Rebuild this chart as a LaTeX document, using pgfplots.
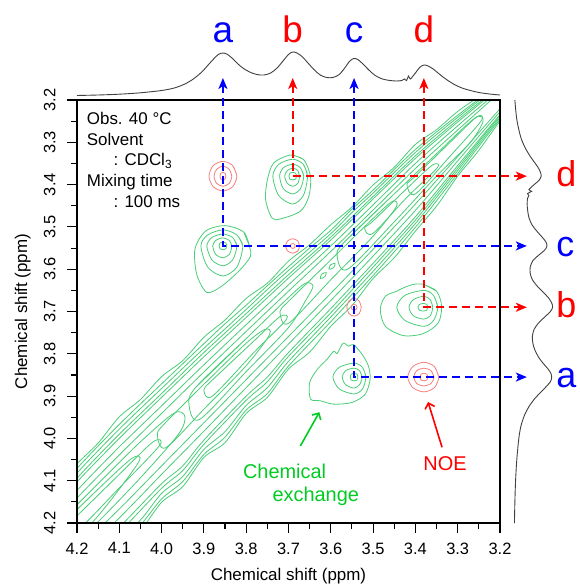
\documentclass[border=0pt]{standalone}
\usepackage{fontspec}
\setmainfont{Liberation Sans}
\usepackage{pgfplots}
\pgfplotsset{compat=1.18}
\usepackage{pgfplotstable}
\usetikzlibrary{arrows.meta,calc}

\definecolor{cont}{RGB}{72,206,118}
\definecolor{noe}{RGB}{244,128,128}
\definecolor{pkblue}{RGB}{0,0,255}
\definecolor{pkred}{RGB}{255,0,0}
\definecolor{exgreen}{RGB}{0,204,34}

\pgfplotsset{
  gc/.style={cont, line width=0.8bp, smooth},
  pc/.style={noe, line width=0.8bp, smooth},
  guide/.style={line width=1.9bp, dash pattern=on 8bp off 5bp,
    {Stealth[length=11bp,width=9bp,inset=3bp]}-{Stealth[length=11bp,width=9bp,inset=3bp]}},
  frame2d/.style={scale only axis, width=423bp, height=423bp,
    xmin=3.2, xmax=4.2, ymin=3.2, ymax=4.2, x dir=reverse, y dir=reverse},
}

% 1D projection (intensity in arbitrary units)
\pgfplotstableread{
ppm h
4.200 0.5
4.150 1.0
4.100 1.8
4.050 3.2
4.000 5.5
3.970 8
3.945 12
3.925 17
3.905 24
3.890 31
3.877 37
3.866 41.5
3.856 43
3.846 42
3.835 38.5
3.822 33
3.808 28
3.792 24
3.775 21.5
3.758 21
3.742 23
3.727 28
3.713 35
3.700 41.5
3.690 44
3.680 43
3.668 39.5
3.655 33.5
3.640 26.5
3.625 21
3.610 18.5
3.595 18.5
3.580 21.5
3.567 28
3.556 34.5
3.546 37.5
3.536 36.5
3.524 32
3.510 26
3.495 20.5
3.478 17
3.460 15.5
3.445 15
3.432 15.5
3.426 17
3.421 15.5
3.416 20
3.412 17
3.400 23
3.390 28.5
3.380 31
3.370 30
3.358 27
3.345 22.5
3.330 17.5
3.310 12
3.290 8
3.270 5.5
3.250 3.5
3.225 2
3.200 1
}\proj

\begin{document}
\begin{tikzpicture}
\path[use as bounding box] (-77bp,-61bp) rectangle (503bp,523bp);

% ---------------- 2D map ----------------
\begin{axis}[name=main, at={(0,0)}, anchor=south west, frame2d,
  xtick={3.2,3.3,3.4,3.5,3.6,3.7,3.8,3.9,4.0,4.1,4.2},
  xticklabels={3.2,3.3,3.4,3.5,3.6,3.7,3.8,3.9,4.0,4.1,4.2},
  ytick={3.2,3.3,3.4,3.5,3.6,3.7,3.8,3.9,4.0,4.1,4.2},
  yticklabels={3.2,3.3,3.4,3.5,3.6,3.7,3.8,3.9,4.0,4.1,4.2},
  minor xtick={3.25,3.35,3.45,3.55,3.65,3.75,3.85,3.95,4.05,4.15},
  minor ytick={3.25,3.35,3.45,3.55,3.65,3.75,3.85,3.95,4.05,4.15},
  xtick pos=left, ytick pos=left,
  tick align=outside, major tick length=10bp, minor tick length=6bp,
  tick style={black, line width=1.1bp},
  axis line style={line width=1.4bp},
  tick label style={font=\fontsize{16.5}{19}\selectfont},
  yticklabel style={rotate=90, anchor=south},
  xticklabel shift=6bp, yticklabel shift=8bp,
  xlabel={Chemical shift (ppm)}, ylabel={Chemical shift (ppm)},
  label style={font=\fontsize{17}{20}\selectfont},
  xlabel style={at={(axis description cs:0.5,-0.137)}, anchor=base},
  ylabel style={at={(axis description cs:-0.118,0.5)}, anchor=base},
  axis on top]

% diagonal band, outer to inner
\addplot[gc] coordinates {(4.30,4.180) (4.25,4.115) (4.20,4.060) (4.15,4.011) (4.10,3.949) (4.05,3.908) (4.00,3.854) (3.95,3.816) (3.90,3.761) (3.85,3.720) (3.80,3.669) (3.75,3.633) (3.70,3.581) (3.65,3.542) (3.60,3.495) (3.55,3.453) (3.50,3.401) (3.45,3.359) (3.40,3.305) (3.35,3.270) (3.30,3.227) (3.25,3.192) (3.20,3.155) (3.15,3.113) (3.10,3.070)
 (3.10,3.135) (3.15,3.192) (3.20,3.250) (3.25,3.319) (3.30,3.380) (3.35,3.451) (3.40,3.510) (3.45,3.573) (3.50,3.622) (3.55,3.686) (3.60,3.735) (3.65,3.796) (3.70,3.836) (3.75,3.903) (3.80,3.941) (3.85,4.010) (3.90,4.045) (3.95,4.114) (4.00,4.151) (4.05,4.218) (4.10,4.260) (4.15,4.305) (4.20,4.350) (4.25,4.390) (4.30,4.430) (4.30,4.180) (4.25,4.115)};
\addplot[gc] coordinates {(4.30,4.190) (4.20,4.071) (4.10,3.967) (4.00,3.871) (3.90,3.776) (3.85,3.729) (3.80,3.685) (3.75,3.639) (3.70,3.594) (3.65,3.550) (3.60,3.508) (3.55,3.458) (3.50,3.413) (3.40,3.317) (3.30,3.236) (3.20,3.159) (3.10,3.072)
 (3.10,3.132) (3.20,3.246) (3.30,3.374) (3.40,3.501) (3.50,3.615) (3.60,3.724) (3.70,3.829) (3.75,3.894) (3.80,3.933) (3.85,3.997) (3.90,4.038) (3.95,4.102) (4.00,4.143) (4.05,4.205) (4.10,4.247) (4.20,4.338) (4.30,4.420) (4.30,4.190) (4.20,4.071)};
\addplot[gc] coordinates {(4.30,4.199) (4.20,4.082) (4.10,3.978) (4.00,3.882) (3.90,3.787) (3.80,3.695) (3.75,3.648) (3.70,3.603) (3.60,3.516) (3.55,3.466) (3.50,3.420) (3.40,3.324) (3.30,3.241) (3.20,3.162) (3.10,3.075)
 (3.10,3.129) (3.20,3.242) (3.30,3.367) (3.40,3.492) (3.50,3.605) (3.60,3.713) (3.70,3.818) (3.75,3.880) (3.80,3.922) (3.85,3.984) (3.90,4.026) (3.95,4.090) (4.00,4.130) (4.05,4.193) (4.10,4.234) (4.20,4.326) (4.30,4.409) (4.30,4.199) (4.20,4.082)};
\addplot[gc] coordinates {(4.30,4.209) (4.20,4.094) (4.10,3.990) (4.00,3.894) (3.90,3.797) (3.80,3.705) (3.70,3.613) (3.60,3.524) (3.50,3.428) (3.40,3.332) (3.30,3.247) (3.20,3.166) (3.10,3.077)
 (3.10,3.127) (3.20,3.238) (3.30,3.361) (3.40,3.484) (3.50,3.595) (3.60,3.703) (3.70,3.806) (3.75,3.866) (3.80,3.910) (3.90,4.014) (3.95,4.076) (4.00,4.118) (4.10,4.222) (4.20,4.314) (4.30,4.399) (4.30,4.209) (4.20,4.094)};
\addplot[gc] coordinates {(4.30,4.217) (4.20,4.103) (4.10,4.000) (4.00,3.903) (3.90,3.807) (3.80,3.714) (3.70,3.621) (3.60,3.531) (3.50,3.434) (3.40,3.338) (3.30,3.252) (3.20,3.169) (3.10,3.079)
 (3.10,3.124) (3.20,3.235) (3.30,3.355) (3.40,3.476) (3.50,3.586) (3.60,3.693) (3.70,3.797) (3.75,3.855) (3.80,3.900) (3.90,4.004) (3.95,4.065) (4.00,4.107) (4.10,4.210) (4.20,4.304) (4.30,4.390) (4.30,4.217) (4.20,4.103)};
\addplot[gc] coordinates {(4.30,4.234) (4.20,4.123) (4.10,4.020) (4.00,3.923) (3.90,3.826) (3.80,3.731) (3.70,3.637) (3.60,3.545) (3.50,3.448) (3.40,3.350) (3.30,3.261) (3.20,3.175) (3.10,3.083)
 (3.10,3.119) (3.20,3.228) (3.30,3.344) (3.40,3.461) (3.50,3.569) (3.60,3.674) (3.70,3.777) (3.80,3.880) (3.90,3.983) (4.00,4.085) (4.10,4.188) (4.20,4.283) (4.30,4.372) (4.30,4.234) (4.20,4.123)};
\addplot[gc] coordinates {(4.30,4.250) (4.20,4.141) (4.10,4.039) (4.00,3.941) (3.90,3.843) (3.80,3.747) (3.70,3.652) (3.60,3.558) (3.50,3.460) (3.40,3.362) (3.30,3.271) (3.20,3.181) (3.10,3.087)
 (3.10,3.115) (3.20,3.221) (3.30,3.334) (3.40,3.446) (3.50,3.553) (3.60,3.657) (3.70,3.759) (3.80,3.861) (3.90,3.963) (4.00,4.065) (4.10,4.167) (4.20,4.263) (4.30,4.355) (4.30,4.250) (4.20,4.141)};
% inner ridges
\addplot[gc] coordinates {(4.28,4.238) (4.15,4.107) (4.05,4.008) (3.97,3.940) (3.945,3.948) (3.96,3.990) (4.05,4.093) (4.15,4.197) (4.28,4.322) (4.30,4.28) (4.28,4.238) (4.15,4.107)};
\addplot[gc] coordinates {(3.92,3.880) (3.80,3.764) (3.70,3.667) (3.66,3.633) (3.642,3.640) (3.66,3.675) (3.70,3.738) (3.80,3.842) (3.91,3.955) (3.935,3.922) (3.92,3.880) (3.80,3.764)};
\addplot[gc] coordinates {(3.57,3.538) (3.45,3.422) (3.35,3.327) (3.26,3.243) (3.240,3.250) (3.27,3.300) (3.35,3.38) (3.45,3.488) (3.56,3.600) (3.585,3.570) (3.57,3.538) (3.45,3.422)};
\addplot[gc] coordinates {(4.25,4.218) (4.15,4.120) (4.07,4.047) (4.055,4.057) (4.15,4.183) (4.25,4.284) (4.27,4.255) (4.25,4.218) (4.15,4.120)};
\addplot[gc] coordinates {(3.99,3.962) (3.90,3.872) (3.80,3.775) (3.755,3.742) (3.745,3.755) (3.80,3.828) (3.90,3.931) (3.99,4.022) (4.01,3.990) (3.99,3.962) (3.90,3.872)};
\addplot[gc] coordinates {(3.70,3.676) (3.60,3.578) (3.50,3.480) (3.455,3.440) (3.445,3.452) (3.50,3.522) (3.60,3.625) (3.70,3.728) (3.72,3.700) (3.70,3.676) (3.60,3.578)};
\addplot[gc] coordinates {(3.40,3.380) (3.32,3.302) (3.255,3.240) (3.245,3.250) (3.32,3.335) (3.40,3.422) (3.42,3.400) (3.40,3.380) (3.32,3.302)};
\addplot[gc] coordinates {(4.20,4.183) (4.10,4.085) (4.02,4.008) (4.005,4.017) (4.10,4.117) (4.20,4.218) (4.225,4.205) (4.20,4.183) (4.10,4.085)};
\addplot[gc] coordinates {(3.88,3.862) (3.78,3.768) (3.72,3.712) (3.705,3.719) (3.78,3.795) (3.88,3.900) (3.90,3.885) (3.88,3.862) (3.78,3.768)};
\addplot[gc] coordinates {(3.50,3.486) (3.42,3.409) (3.36,3.354) (3.348,3.360) (3.42,3.430) (3.50,3.515) (3.52,3.503) (3.50,3.486) (3.42,3.409)};
\addplot[gc] coordinates {(3.625,3.622) (3.622,3.612) (3.611,3.608) (3.614,3.618) (3.625,3.622) (3.622,3.612)};
\addplot[gc] coordinates {(3.604,3.600) (3.601,3.590) (3.590,3.586) (3.593,3.596) (3.604,3.600) (3.601,3.590)};

% exchange cross peak a/c
\addplot[gc] coordinates {(3.846,3.545) (3.848,3.538) (3.855,3.536) (3.862,3.538) (3.864,3.545) (3.862,3.552) (3.855,3.554) (3.848,3.552) (3.846,3.545) (3.848,3.538)};
\addplot[gc] coordinates {(3.834,3.545) (3.840,3.532) (3.855,3.526) (3.872,3.532) (3.879,3.545) (3.872,3.565) (3.855,3.573) (3.840,3.565) (3.834,3.545) (3.840,3.532)};
\addplot[gc] coordinates {(3.822,3.545) (3.832,3.525) (3.855,3.517) (3.881,3.525) (3.893,3.545) (3.881,3.578) (3.855,3.592) (3.832,3.578) (3.822,3.545) (3.832,3.525)};
\addplot[gc] coordinates {(3.808,3.545) (3.822,3.519) (3.855,3.507) (3.891,3.519) (3.907,3.545) (3.891,3.595) (3.855,3.616) (3.822,3.595) (3.808,3.545) (3.822,3.519)};
\addplot[gc] coordinates {(3.792,3.547) (3.806,3.512) (3.851,3.497) (3.896,3.510) (3.921,3.552) (3.917,3.612) (3.893,3.655) (3.858,3.640) (3.816,3.603) (3.790,3.570) (3.792,3.547) (3.806,3.512)};
% exchange cross peak b/d
\addplot[gc] coordinates {(3.681,3.380) (3.683,3.373) (3.690,3.371) (3.697,3.373) (3.699,3.380) (3.697,3.387) (3.690,3.389) (3.683,3.387) (3.681,3.380) (3.683,3.373)};
\addplot[gc] coordinates {(3.674,3.380) (3.678,3.367) (3.690,3.361) (3.703,3.367) (3.709,3.380) (3.703,3.397) (3.690,3.404) (3.678,3.397) (3.674,3.380) (3.678,3.367)};
\addplot[gc] coordinates {(3.664,3.380) (3.672,3.360) (3.690,3.352) (3.712,3.360) (3.721,3.380) (3.712,3.410) (3.690,3.422) (3.672,3.410) (3.664,3.380) (3.672,3.360)};
\addplot[gc] coordinates {(3.655,3.380) (3.665,3.352) (3.690,3.340) (3.723,3.352) (3.737,3.380) (3.723,3.426) (3.690,3.446) (3.665,3.426) (3.655,3.380) (3.665,3.352)};
\addplot[gc] coordinates {(3.695,3.330) (3.664,3.341) (3.648,3.381) (3.652,3.428) (3.672,3.463) (3.719,3.481) (3.739,3.479) (3.754,3.436) (3.750,3.389) (3.735,3.349) (3.695,3.330) (3.664,3.341)};
% exchange cross peak d/b
\addplot[gc] coordinates {(3.371,3.690) (3.373,3.683) (3.380,3.681) (3.390,3.683) (3.394,3.690) (3.390,3.697) (3.380,3.699) (3.373,3.697) (3.371,3.690) (3.373,3.683)};
\addplot[gc] coordinates {(3.359,3.690) (3.365,3.672) (3.380,3.664) (3.405,3.672) (3.415,3.690) (3.405,3.710) (3.380,3.718) (3.365,3.710) (3.359,3.690) (3.365,3.672)};
\addplot[gc] coordinates {(3.347,3.690) (3.357,3.662) (3.380,3.650) (3.425,3.662) (3.444,3.690) (3.425,3.721) (3.380,3.735) (3.357,3.721) (3.347,3.690) (3.357,3.662)};
\addplot[gc] coordinates {(3.381,3.636) (3.350,3.652) (3.338,3.687) (3.346,3.727) (3.381,3.752) (3.428,3.757) (3.471,3.735) (3.483,3.695) (3.471,3.664) (3.444,3.652) (3.428,3.644) (3.405,3.636) (3.381,3.636) (3.350,3.652)};
% exchange cross peak c/a
\addplot[gc] coordinates {(3.536,3.855) (3.538,3.848) (3.545,3.846) (3.552,3.848) (3.554,3.855) (3.552,3.862) (3.545,3.864) (3.538,3.862) (3.536,3.855) (3.538,3.848)};
\addplot[gc] coordinates {(3.526,3.855) (3.532,3.840) (3.545,3.834) (3.565,3.840) (3.573,3.855) (3.565,3.873) (3.545,3.881) (3.532,3.873) (3.526,3.855) (3.532,3.840)};
\addplot[gc] coordinates {(3.517,3.855) (3.525,3.832) (3.545,3.822) (3.580,3.832) (3.595,3.855) (3.580,3.883) (3.545,3.895) (3.525,3.883) (3.517,3.855) (3.525,3.832)};
\addplot[gc] coordinates {(3.546,3.778) (3.526,3.801) (3.511,3.829) (3.507,3.860) (3.519,3.896) (3.550,3.915) (3.593,3.919) (3.625,3.911) (3.648,3.907) (3.650,3.868) (3.632,3.837) (3.609,3.813) (3.593,3.794) (3.585,3.799) (3.571,3.775) (3.558,3.782) (3.546,3.778) (3.526,3.801)};

% NOE cross peaks
\addplot[pc] coordinates {(3.848,3.380) (3.850,3.373) (3.855,3.371) (3.860,3.373) (3.862,3.380) (3.860,3.387) (3.855,3.389) (3.850,3.387) (3.848,3.380) (3.850,3.373)};
\addplot[pc] coordinates {(3.834,3.380) (3.840,3.364) (3.855,3.356) (3.870,3.364) (3.876,3.380) (3.870,3.397) (3.855,3.404) (3.840,3.397) (3.834,3.380) (3.840,3.364)};
\addplot[pc] coordinates {(3.822,3.380) (3.832,3.355) (3.855,3.345) (3.878,3.355) (3.888,3.380) (3.878,3.405) (3.855,3.415) (3.832,3.405) (3.822,3.380) (3.832,3.355)};
\addplot[pc] coordinates {(3.371,3.855) (3.373,3.848) (3.380,3.846) (3.387,3.848) (3.389,3.855) (3.387,3.862) (3.380,3.864) (3.373,3.862) (3.371,3.855) (3.373,3.848)};
\addplot[pc] coordinates {(3.356,3.855) (3.363,3.840) (3.380,3.834) (3.397,3.840) (3.404,3.855) (3.397,3.870) (3.380,3.876) (3.363,3.870) (3.356,3.855) (3.363,3.840)};
\addplot[pc] coordinates {(3.345,3.855) (3.355,3.830) (3.380,3.820) (3.406,3.830) (3.418,3.855) (3.406,3.880) (3.380,3.890) (3.355,3.880) (3.345,3.855) (3.355,3.830)};
\addplot[pc] coordinates {(3.684,3.545) (3.686,3.541) (3.690,3.539) (3.694,3.541) (3.696,3.545) (3.694,3.549) (3.690,3.551) (3.686,3.549) (3.684,3.545) (3.686,3.541)};
\addplot[pc] coordinates {(3.674,3.545) (3.678,3.533) (3.690,3.528) (3.702,3.533) (3.707,3.545) (3.702,3.557) (3.690,3.562) (3.678,3.557) (3.674,3.545) (3.678,3.533)};
\addplot[pc] coordinates {(3.538,3.690) (3.540,3.685) (3.545,3.683) (3.550,3.685) (3.552,3.690) (3.550,3.695) (3.545,3.697) (3.540,3.695) (3.538,3.690) (3.540,3.685)};
\addplot[pc] coordinates {(3.528,3.690) (3.533,3.675) (3.545,3.669) (3.557,3.675) (3.562,3.690) (3.557,3.705) (3.545,3.711) (3.533,3.705) (3.528,3.690) (3.533,3.675)};
\end{axis}

% ---------------- top projection ----------------
\begin{axis}[at={($(main.north west)+(0,4bp)$)}, anchor=south west,
  scale only axis, width=423bp, height=50bp,
  xmin=3.2, xmax=4.2, x dir=reverse, ymin=0, ymax=50,
  axis lines=none, clip=false]
\addplot[black!75, line width=0.9bp, smooth] table[x=ppm, y=h] {\proj};
\end{axis}

% ---------------- right projection ----------------
\begin{axis}[at={($(main.south east)+(14bp,0)$)}, anchor=south west,
  scale only axis, width=50bp, height=423bp,
  xmin=0, xmax=57, ymin=3.2, ymax=4.2, y dir=reverse,
  axis lines=none, clip=false]
\addplot[black!75, line width=0.9bp, smooth] table[x=h, y=ppm] {\proj};
\end{axis}

% ---------------- annotations ----------------
\begin{axis}[at={(0,0)}, anchor=south west, frame2d, axis lines=none, clip=false]
\addplot[guide, pkred] coordinates {(3.690,3.148) (3.690,3.380) (3.1365,3.380)};
\addplot[guide, pkred] coordinates {(3.380,3.148) (3.380,3.690) (3.1365,3.690)};
\addplot[guide, pkblue] coordinates {(3.855,3.148) (3.855,3.545) (3.1365,3.545)};
\addplot[guide, pkblue] coordinates {(3.545,3.148) (3.545,3.855) (3.1365,3.855)};

\node[anchor=base, inner sep=0, text=pkblue, font=\fontsize{37}{40}\selectfont] at (axis cs:3.855,3.065) {a};
\node[anchor=base, inner sep=0, text=pkred,  font=\fontsize{37}{40}\selectfont] at (axis cs:3.690,3.065) {b};
\node[anchor=base, inner sep=0, text=pkblue, font=\fontsize{37}{40}\selectfont] at (axis cs:3.545,3.065) {c};
\node[anchor=base, inner sep=0, text=pkred,  font=\fontsize{37}{40}\selectfont] at (axis cs:3.380,3.065) {d};
\node[anchor=base west, inner sep=0, text=pkred,  font=\fontsize{36}{40}\selectfont] at (axis cs:3.067,3.404) {d};
\node[anchor=base west, inner sep=0, text=pkblue, font=\fontsize{36}{40}\selectfont] at (axis cs:3.067,3.569) {c};
\node[anchor=base west, inner sep=0, text=pkred,  font=\fontsize{36}{40}\selectfont] at (axis cs:3.067,3.714) {b};
\node[anchor=base west, inner sep=0, text=pkblue, font=\fontsize{36}{40}\selectfont] at (axis cs:3.067,3.879) {a};

\node[anchor=base west, inner sep=0, font=\fontsize{17}{20}\selectfont] at (axis cs:4.177,3.259) {Obs. 40 °C};
\node[anchor=base west, inner sep=0, font=\fontsize{17}{20}\selectfont] at (axis cs:4.177,3.308) {Solvent};
\node[anchor=base west, inner sep=0, font=\fontsize{17}{20}\selectfont] at (axis cs:4.114,3.356) {: CDCl\textsubscript{3}};
\node[anchor=base west, inner sep=0, font=\fontsize{17}{20}\selectfont] at (axis cs:4.177,3.405) {Mixing time};
\node[anchor=base west, inner sep=0, font=\fontsize{17}{20}\selectfont] at (axis cs:4.114,3.455) {: 100 ms};

\addplot[exgreen, line width=1.6bp, -{Straight Barb[length=5bp,width=10bp]}] coordinates {(3.672,4.018) (3.627,3.938)};
\addplot[pkred, line width=1.6bp, -{Straight Barb[length=5bp,width=10bp]}] coordinates {(3.337,4.021) (3.370,3.914)};
\node[anchor=base east, inner sep=0, text=exgreen, font=\fontsize{20}{24}\selectfont] at (axis cs:3.6105,4.094) {Chemical};
\node[anchor=base east, inner sep=0, text=exgreen, font=\fontsize{20}{24}\selectfont] at (axis cs:3.533,4.148) {exchange};
\node[anchor=base, inner sep=0, text=pkred, font=\fontsize{20}{24}\selectfont] at (axis cs:3.330,4.077) {NOE};
\end{axis}
\end{tikzpicture}
\end{document}
